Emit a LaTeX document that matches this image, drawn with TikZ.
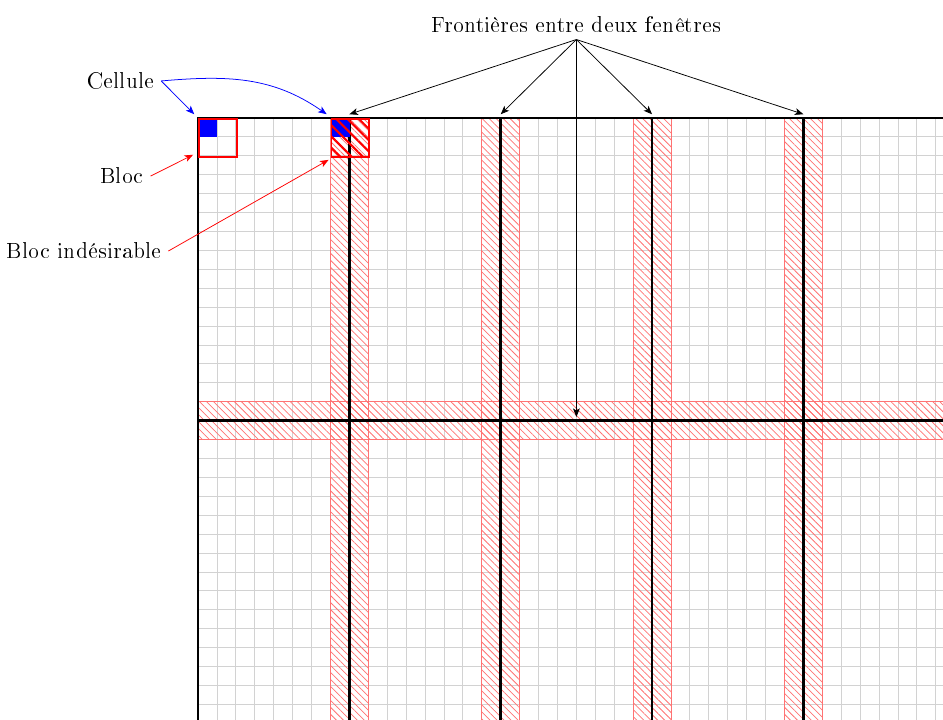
\documentclass[tikz,border=0pt]{standalone}
\usepackage[T1]{fontenc}
\usetikzlibrary{patterns.meta,positioning,arrows.meta}

\begin{document}
\begin{tikzpicture}[
  x=0.35cm, y=0.35cm,
  grille/.style={gray!35, line width=0.5pt, step=0.35cm},
  frontiere/.style={black, line width=1.5pt},
  bande/.style={draw=red!55, pattern={Lines[angle=-45, distance=2.6pt,
                line width=0.4pt]}, pattern color=red!55},
  blocbox/.style={draw=red, line width=1pt, minimum size=0.7cm, inner sep=0pt,
                  anchor=north west},
  cellbox/.style={fill=blue, minimum size=0.35cm, inner sep=0pt,
                  anchor=north west},
  annot/.style={font=\large},
  >={Stealth[length=4.5pt, width=3.6pt, inset=1.2pt]}
]
  \useasboundingbox (-10.47,-31.77) rectangle (39.38,6.24);

  \begin{scope}
    \clip (-10.47,-31.77) rectangle (39.38,6.24);
    % Grille des cellules
    \draw[grille] (0,0) grid (40,-32);
    % Bandes hachurées autour des frontières
    \foreach \x in {8,16,24,32}
      \draw[bande] (\x-1,0) rectangle (\x+1,-32);
    \draw[bande] (0,-15) rectangle (40,-17);
    % Frontières entre fenêtres
    \draw[frontiere] (40,0) -- (0,0) -- (0,-32);
    \foreach \x in {8,16,24,32}
      \draw[frontiere] (\x,0) -- (\x,-32);
    \draw[frontiere] (0,-16) -- (40,-16);
  \end{scope}

  % Blocs et cellules
  \node[cellbox] (cell1) at (0,0) {};
  \node[blocbox] (bloc) at (0,0) {};
  \node[cellbox] (cell2) at (7,0) {};
  \node[blocbox, pattern={Lines[angle=-45, distance=4.2pt, line width=1.1pt]},
        pattern color=red] (bad) at (7,0) {};

  % Points d'arrivée des flèches
  \foreach \x [count=\i] in {8,16,24,32}
    \coordinate (f\i) at (\x,0.2);
  \coordinate (fh) at (20,-15.8);

  % Annotations
  \node[annot] (lcell) at (-4.07,1.96) {Cellule};
  \node[annot] (lbloc) at (-4.02,-3.07) {Bloc};
  \node[annot] (lbad) at (-6.03,-7.03) {Bloc indésirable};
  \node[annot] (lfront) at (20,4.92) {Frontières entre deux fenêtres};

  \draw[->, blue] (lcell.east) -- ([shift={(-2pt,2pt)}]cell1.north west);
  \draw[->, blue] (lcell.east) to[out=5, in=145]
    ([shift={(-2pt,2pt)}]cell2.north west);
  \draw[->, red] (lbloc.east) -- ([shift={(-2.6pt,1.6pt)}]bloc.south west);
  \draw[->, red] (lbad.east) -- ([shift={(-1pt,-1pt)}]bad.south west);
  \foreach \i in {1,...,4}
    \draw[->] (lfront.south) -- (f\i);
  \draw[->] (lfront.south) -- (fh);
\end{tikzpicture}
\end{document}
